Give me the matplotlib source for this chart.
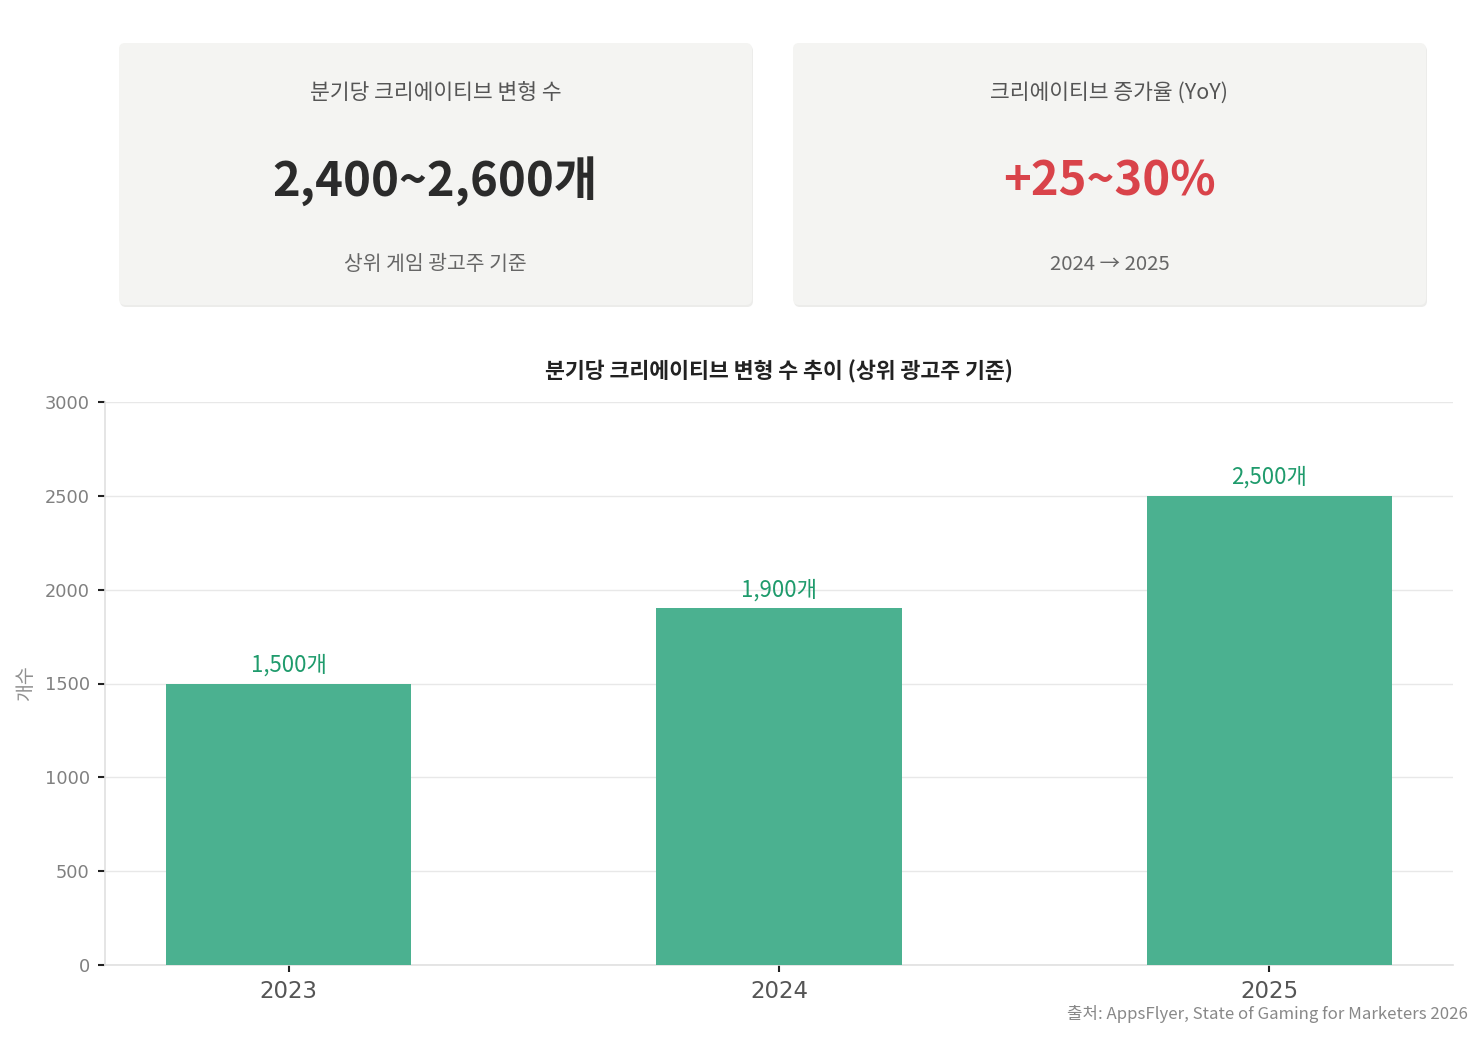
import matplotlib
matplotlib.use("Agg")
import matplotlib.pyplot as plt
from matplotlib.patches import FancyBboxPatch

plt.rcParams['font.family'] = ['Noto Sans CJK KR', 'DejaVu Sans']

# ---- data ----
years = ["2023", "2024", "2025"]
variants = [1500, 1900, 2500]
yticks = [0, 500, 1000, 1500, 2000, 2500, 3000]

card_titles = ["분기당 크리에이티브 변형 수", "크리에이티브 증가율 (YoY)"]
card_values = ["2,400~2,600개", "+25~30%"]
card_subs = ["상위 게임 광고주 기준", "2024 → 2025"]
card_value_colors = ["#2b2b2b", "#d9434a"]

title = "분기당 크리에이티브 변형 수 추이 (상위 광고주 기준)"
ylabel = "개수"
source = "출처: AppsFlyer, State of Gaming for Marketers 2026"

W, H = 1483, 1038
fig = plt.figure(figsize=(W / 100, H / 100), dpi=100)
fig.patch.set_facecolor("white")

# ---- overlay for cards (pixel coords) ----
ov = fig.add_axes([0, 0, 1, 1])
ov.set_xlim(0, W)
ov.set_ylim(H, 0)
ov.axis("off")

cards_x = [119, 793]
card_w, card_y, card_h = 633, 43, 262
for i, cx in enumerate(cards_x):
    sh = FancyBboxPatch((cx + 1, card_y + 2), card_w, card_h,
                        boxstyle="round,pad=0,rounding_size=6",
                        facecolor="#ececea", edgecolor="none", zorder=1)
    ov.add_patch(sh)
    box = FancyBboxPatch((cx, card_y), card_w, card_h,
                         boxstyle="round,pad=0,rounding_size=6",
                         facecolor="#f4f4f2", edgecolor="none", zorder=2)
    ov.add_patch(box)
    mid = cx + card_w / 2
    ov.text(mid, 93, card_titles[i], ha="center", va="center",
            fontsize=15.5, color="#555555", zorder=3)
    ov.text(mid, 181, card_values[i], ha="center", va="center",
            fontsize=34, color=card_value_colors[i], fontweight="bold", zorder=3)
    ov.text(mid, 265, card_subs[i], ha="center", va="center",
            fontsize=14.7, color="#666666", zorder=3)

# ---- bar chart ----
ax = fig.add_axes([105 / W, 1 - 965 / H, (1453 - 105) / W, (965 - 402) / H])
x = list(range(len(years)))
ax.bar(x, variants, width=0.5, color="#4bb190", zorder=3)
ax.set_ylim(0, 3000)
ax.set_yticks(yticks)
ax.set_yticklabels([str(t) for t in yticks], fontfamily="DejaVu Sans")
ax.set_xticks(x)
ax.set_xticklabels(years, fontsize=16.5, color="#555555", fontfamily="DejaVu Sans")
ax.tick_params(axis="y", labelsize=12.8, labelcolor="#808080", color="#222222",
               length=5, width=1.5, pad=6)
ax.tick_params(axis="x", color="#222222", length=5, width=1.5, pad=5.5)
ax.grid(axis="y", color="#e8e8e8", linewidth=1, zorder=0)
for s in ["top", "right"]:
    ax.spines[s].set_visible(False)
for s in ["left", "bottom"]:
    ax.spines[s].set_color("#e0e0e0")
    ax.spines[s].set_linewidth(1.2)

for xi, v in zip(x, variants):
    ax.annotate(f"{v:,}개", (xi, v), xytext=(0, 5), textcoords="offset points",
                ha="center", va="bottom", fontsize=16, color="#1f9b6c",
                fontweight="medium", zorder=4)

ax.set_title(title, fontsize=15.6, fontweight="bold", color="#222222", pad=17)
ax.set_ylabel(ylabel, fontsize=14, color="#909090", labelpad=6)

fig.text(1468 / W, 1 - 1014 / H, source, ha="right", va="center",
         fontsize=12.1, color="#888888")

fig.savefig("out.png", dpi=100, facecolor="white")
